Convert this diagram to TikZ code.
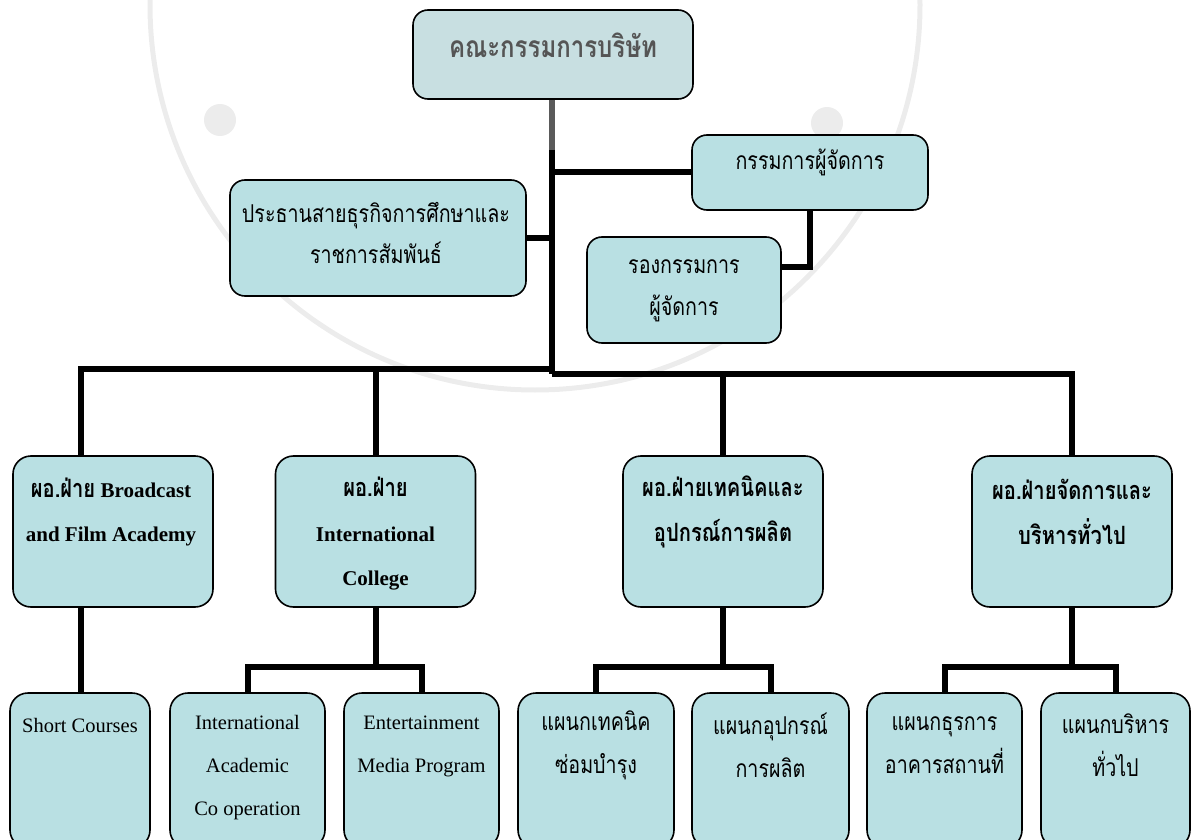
\documentclass[tikz,border=0pt]{standalone}
\usepackage{fontspec}
\usepackage{graphicx}
\setmainfont{Liberation Serif}
\newfontfamily\thai[Script=Thai,Scale=0.96]{Loma}
\newcommand{\thx}[1]{\scalebox{1}[1.25]{\thai #1}}
\definecolor{boxfill}{RGB}{185,224,227}
\definecolor{topfill}{RGB}{200,223,225}
\definecolor{boardtext}{RGB}{85,85,85}
\definecolor{trunkgray}{RGB}{90,90,90}
\definecolor{wm}{RGB}{236,236,236}
\begin{document}
\begin{tikzpicture}[x=1pt,y=-1pt,
  bx/.style={draw=black, line width=1.6pt, rounded corners=18pt, fill=boxfill, inner sep=0pt},
  tbx/.style={bx, rounded corners=15pt},
  lbl/.style={align=center, inner sep=0pt, font=\fontsize{20.5}{43}\selectfont},
  lblb/.style={align=center, inner sep=0pt, font=\bfseries\fontsize{21}{44.5}\selectfont},
  conn/.style={line width=6pt, line join=miter}]
\useasboundingbox (0,0) rectangle (1192,840);
% faint watermark
\draw[wm, line width=5pt] (535,5) circle[radius=385pt];
\fill[wm] (220,120) circle[radius=16pt];
\fill[wm] (827,123) circle[radius=16pt];

% top boxes
\node[tbx, fill=topfill, minimum width=280pt, minimum height=89pt] (board) at (553,54.5) {};
\node[tbx, minimum width=296pt, minimum height=116pt] (pres) at (378,238) {};
\node[tbx, minimum width=236pt, minimum height=75pt] (md) at (810,172.5) {};
\node[tbx, minimum width=194pt, minimum height=106pt] (dmd) at (684,290) {};

% row 2
\foreach \n/\x in {ra/113,rb/375.5,rc/723,rd/1072}
  \node[bx, minimum width=200pt, minimum height=151pt] (\n) at (\x,531.5) {};

% row 3
\node[bx, minimum width=140pt, minimum height=155pt] (sc) at (80,770.5) {};
\node[bx, minimum width=155pt, minimum height=155pt] (iac) at (247.5,770.5) {};
\node[bx, minimum width=155pt, minimum height=155pt] (emp) at (421.5,770.5) {};
\node[bx, minimum width=156pt, minimum height=155pt] (tech) at (596,770.5) {};
\node[bx, minimum width=157pt, minimum height=155pt] (equip) at (770.5,770.5) {};
\node[bx, minimum width=155pt, minimum height=155pt] (admin) at (944.5,770.5) {};
\node[bx, minimum width=149pt, minimum height=155pt] (gen) at (1115.5,770.5) {};

% connector coordinates
\coordinate (j1) at (552,150);
\coordinate (tb) at (552,374);
\coordinate (tbl) at (552,369);
\coordinate (da) at (81,456);
\coordinate (dmdc) at (781,267);
\coordinate (sb) at (0,667);

% connectors
\draw[conn, trunkgray] (board.south -| j1) -- (j1);
\draw[conn] (j1) -- (tb);
\draw[conn] (pres.east) -- (pres.east -| tb);
\draw[conn] (md.west -| tb) -- (md.west);
\draw[conn] (md.south) |- (dmdc);
\draw[conn] (tbl) -| (da);
\draw[conn] (rb.north |- tbl) -- (rb.north);
\draw[conn] (tb) -| (rd.north);
\draw[conn] (rc.north |- tb) -- (rc.north);
\draw[conn] (da |- ra.south) -- (da |- sc.north);
\draw[conn] (rb.south) -- (rb.south |- sb);
\draw[conn] (iac.north) -- (iac.north |- sb) -- (emp.north |- sb) -- (emp.north);
\draw[conn] (rc.south) -- (rc.south |- sb);
\draw[conn] (tech.north) -- (tech.north |- sb) -- (equip.north |- sb) -- (equip.north);
\draw[conn] (rd.south) -- (rd.south |- sb);
\draw[conn] (admin.north) -- (admin.north |- sb) -- (gen.north |- sb) -- (gen.north);

% labels
\node[lblb, text=boardtext, font=\bfseries\fontsize{25}{30}\selectfont] (boardt) at (553,45) {\thx{คณะกรรมการบริษัท}};
\node[lbl, font=\fontsize{20.5}{41}\selectfont] (prest) at (376,232.5) {\thx{ประธานสายธุรกิจการศึกษาและ}\\\thx{ราชการสัมพันธ์}};
\node[lbl] (mdt) at (810,162) {\thx{กรรมการผู้จัดการ}};
\node[lbl, font=\fontsize{20.5}{42}\selectfont] (dmdt) at (684,291) {\thx{รองกรรมการ}\\\thx{ผู้จัดการ}};

\node[lblb] (rat) at (111,512) {\thx{ผอ.ฝ่าย} Broadcast\\and Film Academy};
\node[lblb] (rbt) at (375.5,534) {\thx{ผอ.ฝ่าย}\\International\\College};
\node[lblb] (rct) at (723,512) {\thx{ผอ.ฝ่ายเทคนิคและ}\\\thx{อุปกรณ์การผลิต}};
\node[lblb] (rdt) at (1072,512) {\thx{ผอ.ฝ่ายจัดการและ}\\\thx{บริหารทั่วไป}};

\node[lbl] (sct) at (80,725) {Short Courses};
\node[lbl] (iact) at (247.5,768) {International\\Academic\\Co operation};
\node[lbl] (empt) at (421.5,746) {Entertainment\\Media Program};
\node[lbl] (techt) at (596,745) {\thx{แผนกเทคนิค}\\\thx{ซ่อมบำรุง}};
\node[lbl] (equipt) at (770.5,745) {\thx{แผนกอุปกรณ์}\\\thx{การผลิต}};
\node[lbl] (admint) at (944.5,745) {\thx{แผนกธุรการ}\\\thx{อาคารสถานที่}};
\node[lbl] (gent) at (1115.5,745) {\thx{แผนกบริหาร}\\\thx{ทั่วไป}};
\end{tikzpicture}
\end{document}
